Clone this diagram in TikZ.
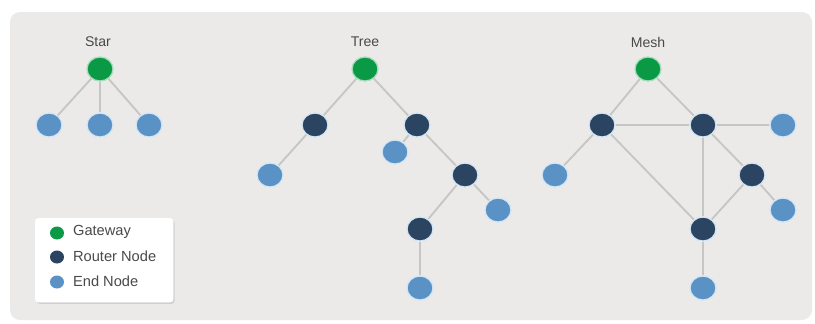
\documentclass[tikz,border=0pt]{standalone}
\usepackage{fontspec}
\setmainfont{Liberation Sans}
\usetikzlibrary{shapes.geometric, shadows, backgrounds}

\definecolor{gwgreen}{HTML}{0A9A45}
\definecolor{routerblue}{HTML}{2A4462}
\definecolor{endblue}{HTML}{5B92C6}
\definecolor{halo}{HTML}{D3E6F4}
\definecolor{linkgrey}{HTML}{C6C6C4}
\definecolor{panelgrey}{HTML}{EBEAE9}
\definecolor{labelgrey}{HTML}{4A4A4A}

\tikzset{
  dev/.style={ellipse, minimum width=7.8mm, minimum height=7.2mm, inner sep=0pt, draw=halo, line width=1.1pt},
  gateway/.style={dev, fill=gwgreen, draw=gwgreen!35!white},
  router/.style={dev, fill=routerblue},
  endnode/.style={dev, fill=endblue},
  link/.style={linkgrey, line width=1.6pt},
  title/.style={text=labelgrey, font=\fontsize{12}{14}\selectfont},
  keydot/.style={ellipse, minimum width=4.2mm, minimum height=3.9mm, inner sep=0pt},
  keytext/.style={text=labelgrey, anchor=west, font=\fontsize{12.5}{14}\selectfont}
}

\begin{document}
\begin{tikzpicture}[x=0.3mm, y=-0.3mm]
    \useasboundingbox (0,0) rectangle (815,323);

    % star
    \node[title] (startitle) at (98,42) {Star};
    \node[gateway] (sg) at (100,69) {};
    \node[endnode] (se1) at (49,125) {};
    \node[endnode] (se2) at (100,125) {};
    \node[endnode] (se3) at (149,125) {};

    % tree
    \node[title] (treetitle) at (365,42) {Tree};
    \node[gateway] (tg) at (365,69) {};
    \node[router] (tr1) at (315,125) {};
    \node[router] (tr2) at (417,125) {};
    \node[endnode] (te1) at (270,175) {};
    \node[endnode] (te2) at (395,152) {};
    \node[router] (tr3) at (465,175) {};
    \node[endnode] (te3) at (498,210) {};
    \node[router] (tr4) at (420,229) {};
    \node[endnode] (te4) at (420,288) {};

    % mesh
    \node[title] (meshtitle) at (648,42) {Mesh};
    \node[gateway] (mg) at (648,69) {};
    \node[router] (mr1) at (602,125) {};
    \node[router] (mr2) at (703,125) {};
    \node[router] (mr3) at (752,175) {};
    \node[router] (mr4) at (703,229) {};
    \node[endnode] (me1) at (783,125) {};
    \node[endnode] (me2) at (555,175) {};
    \node[endnode] (me3) at (783,210) {};
    \node[endnode] (me4) at (703,288) {};

    % legend
    \node[draw=white, fill=white, rounded corners=1mm, drop shadow={opacity=0.25, shadow xshift=0.4mm, shadow yshift=-0.5mm},
          minimum width=41.4mm, minimum height=25.2mm, anchor=north west] (legend) at (35,218) {};
    \node[keydot, fill=gwgreen] (kg) at (57,233) {};
    \node[keytext] (kgtext) at (69,232) {Gateway};
    \node[keydot, fill=routerblue] (kr) at (57,257) {};
    \node[keytext] (krtext) at (69,256) {Router Node};
    \node[keydot, fill=endblue] (ke) at (57,282) {};
    \node[keytext] (ketext) at (69,281) {End Node};

    \begin{pgfonlayer}{background}
        \fill[panelgrey, rounded corners=3mm] (10,12) rectangle (812,320);
        \foreach \a/\b in {sg/se1, sg/se2, sg/se3,
                           tg/tr1, tg/tr2, tr1/te1, tr2/te2, tr2/tr3, tr3/te3, tr3/tr4, tr4/te4,
                           mg/mr1, mg/mr2, mr1/mr2, mr2/me1, mr1/me2, mr1/mr4, mr2/mr4,
                           mr2/mr3, mr3/me3, mr3/mr4, mr4/me4}
            \draw[link] (\a) -- (\b);
    \end{pgfonlayer}
\end{tikzpicture}
\end{document}
